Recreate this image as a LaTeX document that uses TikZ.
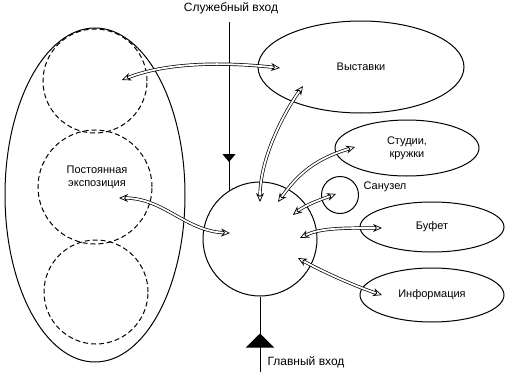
\documentclass[tikz,border=0pt]{standalone}
\usepackage{fontspec}
\setmainfont{Liberation Sans}
\usetikzlibrary{shapes.geometric,arrows.meta,decorations.markings}

\begin{document}
\begin{tikzpicture}[x=1pt, y=-1pt,
        zone/.style={ellipse, draw, line width=1pt, inner sep=0pt, font=\fontsize{11}{13}\selectfont, align=center},
        hall/.style={circle, draw, line width=1pt, dash pattern=on 5pt off 3pt, inner sep=0pt},
        room/.style={circle, draw, line width=1pt, inner sep=0pt},
        link/.style={double, double distance=1.8pt, line width=0.7pt,
            {Stealth[open, length=9pt, width=8pt]}-{Stealth[open, length=9pt, width=8pt]}},
        entry/.style={font=\fontsize{12}{14}\selectfont},
        lbl/.style={font=\fontsize{11}{13}\selectfont, align=center}]
    \useasboundingbox (0,0) rectangle (506,372);
    % Permanent exhibition
    \node[zone, minimum width=180pt, minimum height=334pt] (perm) at (95,195) {};
    \node[hall, minimum size=104pt] (h1) at (95,81) {};
    \node[hall, minimum size=114pt] (h2) at (95,187) {};
    \node[hall, minimum size=104pt] (h3) at (96,292) {};
    \node[lbl] (permlbl) at (97,177) {Постоянная\\экспозиция};
    % Hub and rooms
    \node[room, minimum size=114pt] (hub) at (260,239) {};
    \node[zone, minimum width=206pt, minimum height=92pt] (vyst) at (361,67) {Выставки};
    \node[zone, minimum width=144pt, minimum height=56pt] (stud) at (407,148) {Студии,\\кружки};
    \node[room, minimum size=37pt] (wc) at (340,195) {};
    \node[lbl] (wclbl) at (385,187) {Санузел};
    \node[zone, minimum width=144pt, minimum height=50pt] (buf) at (432,227) {Буфет};
    \node[zone, minimum width=144pt, minimum height=54pt] (info) at (432,295) {Информация};
    % Entrances
    \coordinate (svc) at (229,22);
    \coordinate (main) at (260,372);
    \draw[line width=1pt, postaction={decorate, decoration={markings,
        mark=at position 140pt with {\arrow{Triangle[length=8pt, width=13pt]}}}}]
        (svc) -- (svc |- hub.123);
    \draw[line width=1pt, postaction={decorate, decoration={markings,
        mark=at position 37pt with {\arrowreversed{Triangle[length=14pt, width=28pt]}}}}]
        (hub.south) -- (main);
    \node[entry] (svclbl) at (231,8) {Служебный вход};
    \node[entry] (mainlbl) at (306,362) {Главный вход};
    % Arrow ends
    \coordinate (h1a) at (122,80);   \coordinate (vysta) at (280,68);
    \coordinate (h2a) at (119,198);  \coordinate (hubh) at (230,233);
    \coordinate (vystb) at (303,86); \coordinate (hubv) at (260,202);
    \coordinate (hubs) at (278,202); \coordinate (studa) at (355,147);
    \coordinate (hubw) at (293,215); \coordinate (wca) at (336,194);
    \coordinate (hubb) at (300,238); \coordinate (bufa) at (382,228);
    \coordinate (hubi) at (298,258); \coordinate (infoa) at (382,295);
    % Links
    \draw[link] (h1a) .. controls +(45,-18) and +(-55,-6) .. (vysta);
    \draw[link] (h2a) .. controls +(45,0) and +(-45,-2) .. (hubh);
    \draw[link] (vystb) .. controls +(-18,25) and +(0,-45) .. (hubv);
    \draw[link] (hubs) .. controls +(20,-28) and +(-40,12) .. (studa);
    \draw[link] (hubw) .. controls +(12,-10) and +(-14,5) .. (wca);
    \draw[link] (hubb) .. controls +(20,-10) and +(-40,0) .. (bufa);
    \draw[link] (hubi) .. controls +(25,14) and +(-25,-8) .. (infoa);
\end{tikzpicture}
\end{document}
